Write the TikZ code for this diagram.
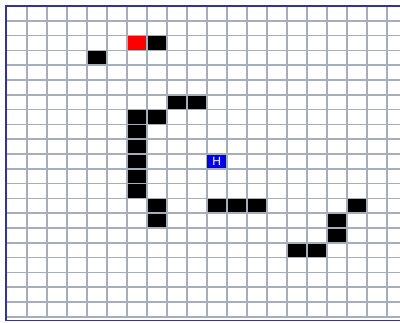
\documentclass[tikz,border=0pt]{standalone}
\usepackage{fontspec}
\setsansfont{Liberation Sans}
\definecolor{gridgrey}{RGB}{165,175,188}
\definecolor{framenavy}{RGB}{52,52,150}
\definecolor{heroblue}{RGB}{0,0,235}
\definecolor{goalred}{RGB}{255,0,0}
\tikzset{every picture/.style={line width=0.75pt}}
\begin{document}
\begin{tikzpicture}[x=0.75pt,y=0.75pt,yscale=-1,xscale=1,
	wall/.style={fill=black},
	goal/.style={fill=goalred},
	gridline/.style={draw=gridgrey,line width=1.2pt},
	frameline/.style={draw=framenavy,line width=1.4pt}]
				\useasboundingbox (0,0) rectangle (400,322);
				
				%Shape: Rectangle [goal] 
				\fill [goal] (126.7,35.6) rectangle +(20,14.8) ;
				%Shape: Rectangle [wall] 
				\fill [wall] (146.7,35.6) rectangle +(20,14.8) ;
				%Shape: Rectangle [wall] 
				\fill [wall] (86.7,50.4) rectangle +(20,14.8) ;
				%Shape: Rectangle [wall] 
				\fill [wall] (166.7,94.8) rectangle +(20,14.8) ;
				%Shape: Rectangle [wall] 
				\fill [wall] (186.7,94.8) rectangle +(20,14.8) ;
				%Shape: Rectangle [wall] 
				\fill [wall] (146.7,109.6) rectangle +(20,14.8) ;
				%Shape: Rectangle [wall] column
				\fill [wall] (126.7,109.6) rectangle +(20,88.8) ;
				%Shape: Rectangle [wall] 
				\fill [wall] (146.7,198.4) rectangle +(20,29.6) ;
				%Shape: Rectangle [wall] 
				\fill [wall] (206.7,198.4) rectangle +(60,14.8) ;
				%Shape: Rectangle [wall] 
				\fill [wall] (346.7,198.4) rectangle +(20,14.8) ;
				%Shape: Rectangle [wall] 
				\fill [wall] (326.7,213.2) rectangle +(20,29.6) ;
				%Shape: Rectangle [wall] 
				\fill [wall] (286.7,242.8) rectangle +(40,14.8) ;
				
				% Grid
				\foreach \k in {0,...,18}
					\draw [gridline] (26.7+20*\k,6) -- (26.7+20*\k,316.8) ;
				\foreach \k in {1,...,21}
					\draw [gridline] (6.7,6+14.8*\k) -- (400,6+14.8*\k) ;
				
				% Frame
				\draw [frameline] (400,6) -- (6.3,6) -- (6.3,320.5) -- (400,320.5) ;
				
				% Text Node
				\node (hero) [fill=heroblue,text=white,inner sep=0pt,minimum width=14pt,minimum height=10.2pt,font=\sffamily\fontsize{9}{9}\selectfont] at (216.7,161.4) {H};
				
			\end{tikzpicture}
\end{document}
